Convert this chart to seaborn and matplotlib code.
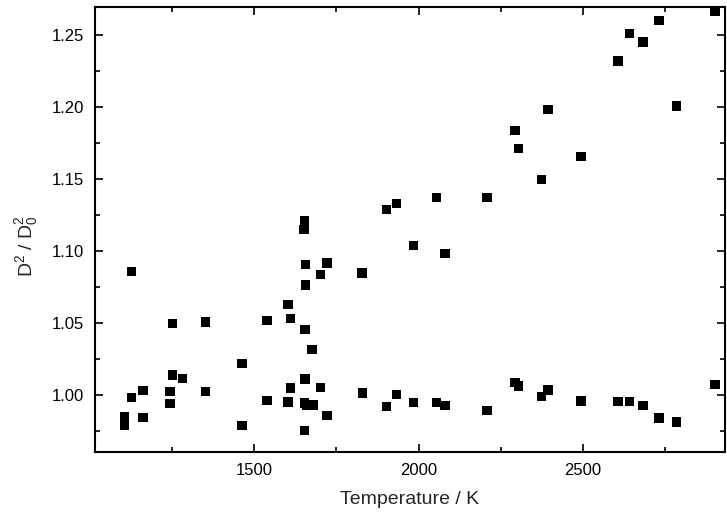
import matplotlib
matplotlib.use("Agg")
import matplotlib.pyplot as plt
from matplotlib.ticker import MultipleLocator, FormatStrFormatter
import seaborn as sns
import pandas as pd

temperature = [1106, 1106, 1128, 1128, 1162, 1162, 1244, 1244, 1251, 1251, 1283,
               1353, 1353, 1463, 1463, 1539, 1539, 1603, 1603, 1610, 1610,
               1652, 1653, 1655, 1656, 1657, 1653, 1655, 1653, 1661, 1654,
               1676, 1679, 1702, 1702, 1722, 1722, 1828, 1829, 1903, 1903,
               1932, 1932, 1984, 1984, 2055, 2055, 2080, 2080, 2208, 2208,
               2293, 2293, 2303, 2303, 2373, 2373, 2394, 2394, 2494, 2494,
               2607, 2607, 2641, 2641, 2683, 2683, 2731, 2731, 2785, 2785,
               2902, 2902]
ratio = [0.985, 0.979, 1.0861, 0.9986, 1.0033, 0.9845, 1.0026, 0.9942, 1.050, 1.0142, 1.0118,
         1.051, 1.0026, 1.022, 0.979, 1.0519, 0.9963, 1.063, 0.9954, 1.0533, 1.0051,
         1.115, 1.1213, 1.0456, 1.0767, 1.0908, 0.9947, 1.0114, 0.9757, 0.9928, 0.9950,
         1.032, 0.9933, 1.0838, 1.0053, 1.092, 0.9859, 1.085, 1.0017, 1.129, 0.9922,
         1.1331, 1.0005, 1.1042, 0.9951, 1.1375, 0.9951, 1.0984, 0.9928, 1.1373, 0.9896,
         1.1838, 1.009, 1.1713, 1.0065, 1.150, 0.9991, 1.1986, 1.0037, 1.1658, 0.9961,
         1.2322, 0.9958, 1.2514, 0.9956, 1.2454, 0.9928, 1.2604, 0.9843, 1.201, 0.9815,
         1.2667, 1.0077]

df = pd.DataFrame({"T": temperature, "r": ratio})

sns.set_style("ticks")
plt.rcParams["font.family"] = ["Liberation Sans", "DejaVu Sans"]
plt.rcParams["mathtext.fontset"] = "custom"
plt.rcParams["mathtext.rm"] = "Liberation Sans"
plt.rcParams["mathtext.it"] = "Liberation Sans"

fig = plt.figure(figsize=(7.27, 5.22), dpi=100)
ax = fig.add_axes([95/727, 70/522, 630/727, 445/522])

sns.scatterplot(data=df, x="T", y="r", marker="s", s=45, color="black",
                edgecolor="none", ax=ax, legend=False)

ax.set_xlim(1016, 2932)
ax.set_ylim(0.9607, 1.2697)
ax.xaxis.set_major_locator(MultipleLocator(500))
ax.xaxis.set_minor_locator(MultipleLocator(250))
ax.yaxis.set_major_locator(MultipleLocator(0.05))
ax.yaxis.set_minor_locator(MultipleLocator(0.025))
ax.yaxis.set_major_formatter(FormatStrFormatter("%.2f"))

ax.tick_params(which="both", direction="in", top=True, right=True, width=1.2,
               labelsize=12, colors="black")
ax.tick_params(which="major", length=6)
ax.tick_params(which="minor", length=3.5)
ax.tick_params(axis="x", which="major", pad=8)
ax.tick_params(axis="y", which="major", pad=8)
for sp in ax.spines.values():
    sp.set_linewidth(1.5)
    sp.set_color("black")

ax.set_xlabel("Temperature / K", fontsize=14, labelpad=9)
ax.set_ylabel(r"D$^{2}$ / D$_{0}^{2}$", fontsize=14)
ax.yaxis.set_label_coords(-0.088, 0.463)

fig.savefig("out.png", dpi=100)
